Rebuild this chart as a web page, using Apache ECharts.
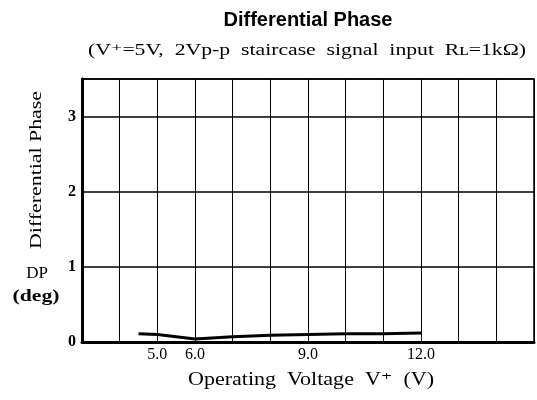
<!DOCTYPE html>
<html>
<head>
<meta charset="utf-8">
<script src="https://cdn.jsdelivr.net/npm/echarts@6/dist/echarts.min.js"></script>
<style>html,body{margin:0;padding:0;background:#fff;}#c{width:537px;height:400px;}</style>
</head>
<body>
<div id="c"></div>
<script>
const voltage = [4.5, 5.0, 6.0, 7.0, 8.0, 9.0, 10.0, 11.0, 12.0];
const dpValues = [0.11, 0.10, 0.04, 0.07, 0.09, 0.10, 0.11, 0.11, 0.12];
const xTickValues = [5, 6, 9, 12];
const xTickLabels = ['5.0', '6.0', '9.0', '12.0'];
const yTickValues = [0, 1, 2, 3];
const yTickLabels = ['0', '1', '2', '3'];
const titleText = 'Differential Phase';
const subtitleText = '(V\u207A=5V,  2Vp-p  staircase  signal  input  R\u029F=1k\u03A9)';
const xAxisTitle = 'Operating  Voltage  V\u207A  (V)';
const yAxisTitle = 'Differential Phase';

const serif = '"Liberation Serif", "DejaVu Serif", serif';
const mctx = document.createElement('canvas').getContext('2d');
function textWidth(t, font) { mctx.font = font; return mctx.measureText(t).width; }
function stretched(text, font, cx, cy, targetW, rot) {
  const w = textWidth(text, font);
  return {type: 'text', x: cx, y: cy, rotation: rot || 0, scaleX: targetW / w, scaleY: 1,
    style: {text: text, fill: '#000', font: font, textAlign: 'center', textVerticalAlign: 'middle'}};
}
const subFont = '16px ' + serif;
const xNameFont = '18px ' + serif;
const yNameFont = '17px ' + serif;

const chart = echarts.init(document.getElementById('c'), null, {renderer: 'canvas'});
chart.setOption({
  animation: false,
  backgroundColor: '#fff',
  grid: {left: 82, right: 1, top: 79, bottom: 58, show: true, borderColor: '#000', borderWidth: 1.5, containLabel: false},
  xAxis: {
    type: 'value', min: 3, max: 15, interval: 1,
    axisLine: {show: true, onZero: false, lineStyle: {color: '#000', width: 3}},
    axisTick: {show: false},
    splitLine: {show: true, lineStyle: {color: '#000', width: 1}},
    axisLabel: {
      color: '#000', fontFamily: serif, fontSize: 16, margin: 5,
      formatter: function (v) { const i = xTickValues.indexOf(v); return i >= 0 ? xTickLabels[i] : ''; }
    }
  },
  yAxis: {
    type: 'value', min: 0, max: 3.5, interval: 1,
    axisLine: {show: true, onZero: false, lineStyle: {color: '#000', width: 3}},
    axisTick: {show: false},
    splitLine: {show: true, lineStyle: {color: '#000', width: 1.5}},
    axisLabel: {
      color: '#000', fontFamily: serif, fontWeight: 'bold', fontSize: 16, margin: 6,
      formatter: function (v) { const i = yTickValues.indexOf(v); return i >= 0 ? yTickLabels[i] : ''; }
    }
  },
  graphic: [
    {type: 'text', x: 308, y: 20, style: {text: titleText, fill: '#000', font: 'bold 20px "Liberation Sans", Arial, sans-serif', textAlign: 'center', textVerticalAlign: 'middle'}},
    stretched(subtitleText, subFont, 307, 51, 438),
    stretched(xAxisTitle, xNameFont, 311, 380, 246),
    stretched(yAxisTitle, yNameFont, 37, 170, 158, Math.PI / 2),
    {type: 'text', x: 37, y: 274, style: {text: 'DP', fill: '#000', font: '17px ' + serif, textAlign: 'center', textVerticalAlign: 'middle'}},
    stretched('(deg)', 'bold 16px ' + serif, 36, 297, 47)
  ],
  series: [{
    type: 'line',
    data: voltage.map((v, i) => [v, dpValues[i]]),
    symbol: 'none',
    lineStyle: {color: '#000', width: 3},
    z: 5
  }]
});
</script>
</body>
</html>
